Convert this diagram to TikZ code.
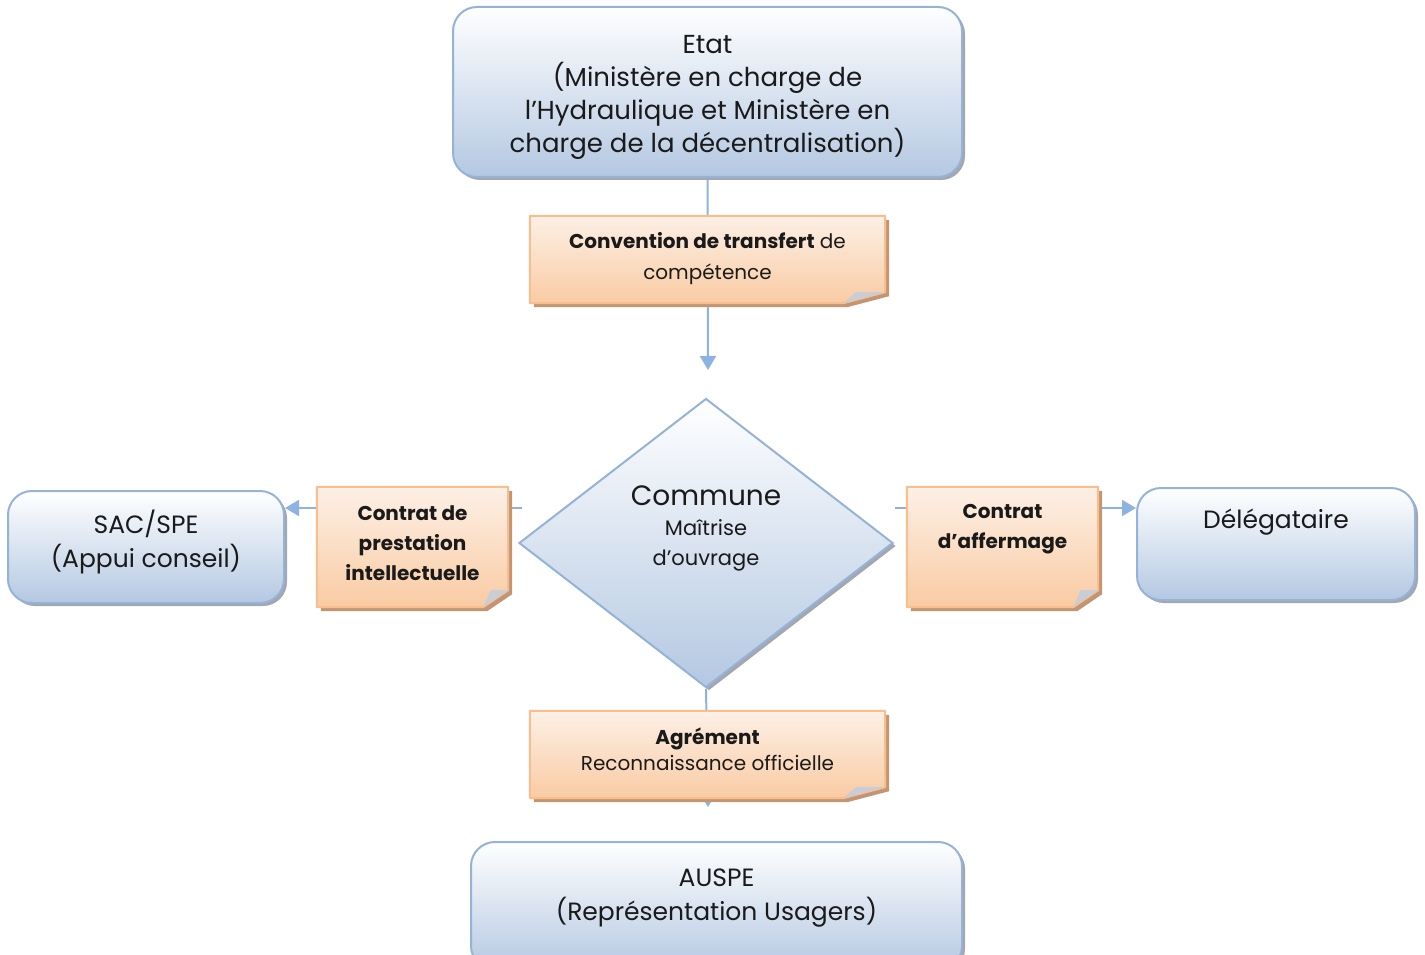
\documentclass[tikz,border=0pt]{standalone}
\usepackage{fontspec}
\setmainfont{Poppins}
\usetikzlibrary{arrows.meta,shapes.geometric,shadows}
\pgfdeclarelayer{lines}\pgfdeclarelayer{bg}
\pgfsetlayers{lines,bg,main}
\definecolor{bborder}{HTML}{95B3D7}
\definecolor{bbottom}{HTML}{B4C8E2}
\definecolor{oborder}{HTML}{F9BE8E}
\definecolor{otop}{HTML}{FDF0E6}
\definecolor{obottom}{HTML}{F9CBA3}
\definecolor{linec}{HTML}{8DB3E2}
\definecolor{bshadow}{HTML}{A4A6B0}
\definecolor{oshadow}{HTML}{C49572}
\definecolor{foldc}{HTML}{C9CDD6}
\definecolor{txt}{HTML}{1A1A1A}
\newcommand\foldnote[3]{%
\begin{pgfonlayer}{bg}
\fill[oshadow] ([xshift=4pt,yshift=-4pt]#1.north west) -- ([xshift=4pt,yshift=-4pt]#1.north east) -- ([xshift=4pt,yshift=#3-4pt]#1.south east) -- ([xshift=-#2+4pt,yshift=-4pt]#1.south east) -- ([xshift=4pt,yshift=-4pt]#1.south west) -- cycle;
\shadedraw[top color=otop, bottom color=obottom, draw=oborder, line width=2pt, line join=round] (#1.north west) -- (#1.north east) -- ([yshift=#3]#1.south east) -- ([xshift=-#2]#1.south east) -- (#1.south west) -- cycle;
\fill[foldc] ([xshift=-#2]#1.south east) -- ([xshift=-#2+0.3*#2,yshift=#3]#1.south east) -- ([yshift=#3]#1.south east) -- cycle;
\end{pgfonlayer}}
\begin{document}
\begin{tikzpicture}[x=1pt,y=-1pt,
  bluebox/.style={draw=bborder, line width=2pt, top color=white, bottom color=bbottom,
    rounded corners=24pt, inner sep=0pt,
    general shadow={fill=bshadow, shadow xshift=3pt, shadow yshift=-3pt, rounded corners=24pt}},
  obox/.style={inner sep=0pt},
  lbl/.style={align=center, inner sep=0pt, text=txt},
  conn/.style={draw=linec, line width=2pt},
  arr/.style={-{Triangle[width=16pt,length=14pt]}}
]
\useasboundingbox (0,0) rectangle (1425,955);

% blue boxes
\node[bluebox, minimum width=509pt, minimum height=170pt] (etat) at (707.5,92) {};
\node[lbl, font=\fontsize{26}{33}\selectfont] (etatT) at (707.5,97)
  {Etat\\(Ministère en charge de\\l’Hydraulique et Ministère en\\charge de la décentralisation)};
\node[bluebox, minimum width=276pt, minimum height=112pt] (sac) at (146,547) {};
\node[lbl, font=\fontsize{25}{34}\selectfont] (sacT) at (146,542) {SAC/SPE\\(Appui conseil)};
\node[bluebox, minimum width=278pt, minimum height=112pt] (deleg) at (1276,544) {};
\node[lbl, font=\fontsize{25}{34}\selectfont] (delegT) at (1276,522) {Délégataire};
\node[bluebox, minimum width=491pt, minimum height=128pt] (auspe) at (716.5,906) {};
\node[lbl, font=\fontsize{25}{34}\selectfont] (auspeT) at (716.5,898) {AUSPE\\(Représentation Usagers)};

% diamond
\node[diamond, draw=bborder, line width=2pt, top color=white, bottom color=bbottom,
  minimum width=374pt, minimum height=289pt, inner sep=0pt,
  general shadow={fill=bshadow, shadow xshift=3pt, shadow yshift=-3pt}] (commune) at (706,543) {};
\node[lbl, font=\fontsize{21}{30}\selectfont] (communeT) at (706,528.5)
  {{\fontsize{28}{33}\selectfont Commune}\\Maîtrise\\d’ouvrage};

% orange notes
\node[obox, minimum width=355pt, minimum height=87pt] (conv) at (707.5,259.5) {};
\foldnote{conv}{42pt}{11pt}
\node[lbl, font=\fontsize{20}{31}\selectfont] (convT) at (707.5,259)
  {\textbf{Convention de transfert} de\\compétence};
\node[obox, minimum width=191pt, minimum height=120pt] (prest) at (412.5,547) {};
\foldnote{prest}{25pt}{17pt}
\node[lbl, font=\bfseries\fontsize{20}{30}\selectfont] (prestT) at (412.5,543)
  {Contrat de\\prestation\\intellectuelle};
\node[obox, minimum width=191pt, minimum height=120pt] (aff) at (1002.5,547) {};
\foldnote{aff}{25pt}{17pt}
\node[lbl, font=\bfseries\fontsize{20}{30}\selectfont] (affT) at (1002.5,529)
  {Contrat\\d’affermage};
\node[obox, minimum width=355pt, minimum height=87pt] (agr) at (707.5,754.5) {};
\foldnote{agr}{42pt}{11pt}
\node[lbl, font=\fontsize{20}{26}\selectfont] (agrT) at (707.5,749.5)
  {\textbf{Agrément}\\Reconnaissance officielle};

% connectors
\coordinate (tipA) at (708,370);
\coordinate (lstart) at (522,508);
\coordinate (rstart) at (895,508);
\coordinate (tipB) at (708,807);
\begin{pgfonlayer}{lines}
\draw[conn, arr] (etat.south) -- (tipA);
\draw[conn, arr] (lstart) -- (lstart -| sac.east);
\draw[conn, arr] (rstart) -- (rstart -| deleg.west);
\draw[conn, arr] (commune.south) -- (tipB);
\end{pgfonlayer}
\end{tikzpicture}
\end{document}
